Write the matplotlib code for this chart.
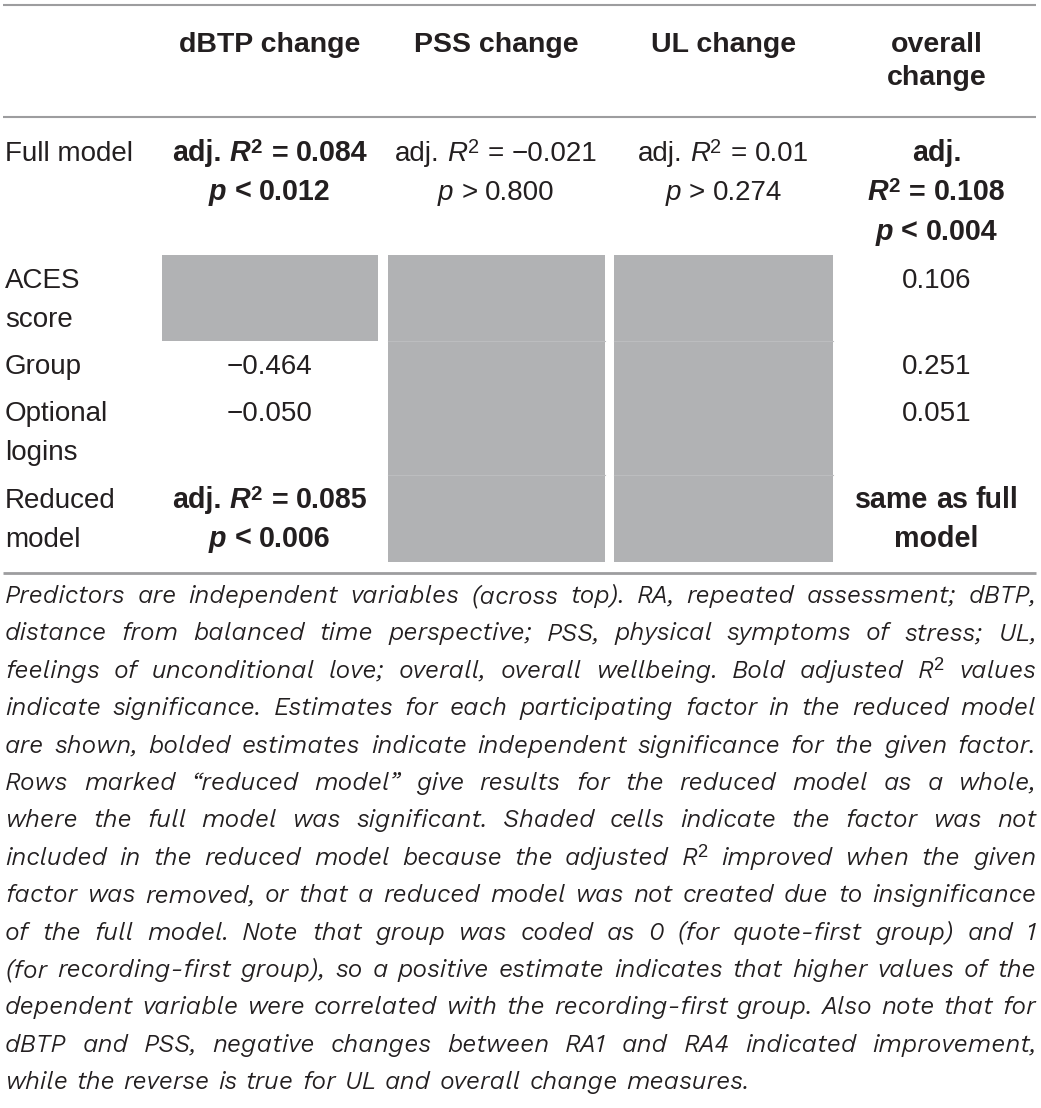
import matplotlib
matplotlib.use("Agg")
import matplotlib.pyplot as plt
from matplotlib import font_manager
from matplotlib.font_manager import FontProperties
from matplotlib.patches import Rectangle

W, H = 1041, 1108
FONT = "Liberation Sans"
TEXT = "#231f20"
SHADE = "#b1b2b4"
SEP = "#bcbdbf"
RULE = "#9d9d9f"

# ---- table content ----
headers = [["dBTP change"], ["PSS change"], ["UL change"], ["overall", "change"]]
row_labels = [["Full model"], ["ACES", "score"], ["Group"], ["Optional", "logins"], ["Reduced", "model"]]

full_r2 = ["0.084", "\u22120.021", "0.01", "0.108"]
full_p_sign = ["<", ">", ">", "<"]
full_p = ["0.012", "0.800", "0.274", "0.004"]
full_bold = [True, False, False, True]

aces_est = [None, None, None, "0.106"]
group_est = ["\u22120.464", None, None, "0.251"]
logins_est = ["\u22120.050", None, None, "0.051"]

reduced_r2 = ["0.085", None, None, None]
reduced_p = ["0.006", None, None, None]
reduced_note = ["same as full", "model"]

caption_lines = [
    "Predictors are independent variables (across top). RA, repeated assessment; dBTP,",
    "distance from balanced time perspective; PSS, physical symptoms of stress; UL,",
    "feelings of unconditional love; overall, overall wellbeing. Bold adjusted R^2 values",
    "indicate significance. Estimates for each participating factor in the reduced model",
    "are shown, bolded estimates indicate independent significance for the given factor.",
    "Rows marked \u201creduced model\u201d give results for the reduced model as a whole,",
    "where the full model was significant. Shaded cells indicate the factor was not",
    "included in the reduced model because the adjusted R^2 improved when the given",
    "factor was removed, or that a reduced model was not created due to insignificance",
    "of the full model. Note that group was coded as 0 (for quote-first group) and 1",
    "(for recording-first group), so a positive estimate indicates that higher values of the",
    "dependent variable were correlated with the recording-first group. Also note that for",
    "dBTP and PSS, negative changes between RA1 and RA4 indicated improvement,",
    "while the reverse is true for UL and overall change measures.",
]

# ---- layout (pixels, y downwards) ----
col_edges = [(162, 378), (388, 605), (614, 833), (843, 1030)]
row_tops = [128, 255, 341, 388, 475]
row_bottoms = [255, 341, 388, 475, 562]
sep_rows = [2, 4]
LINE_H = 39.3
FIRST_BASE = 33
TABLE_FS = 20
HEAD_FS = 20.5
CAP_X0, CAP_X1 = 5, 1036
CAP_BASE0, CAP_LINE_H = 603, 37.4
CAP_HEIGHT_PX = 16.6

fig = plt.figure(figsize=(W / 100, H / 100), dpi=100)
ax = fig.add_axes([0, 0, 1, 1])
ax.set_xlim(0, W)
ax.set_ylim(H, 0)
ax.axis("off")
renderer = fig.canvas.get_renderer()
width = CAP_X1 - CAP_X0


# the caption is a light condensed italic: pick the installed italic face that
# fits the caption lines at the reference cap height with the least stretching
def pick_caption_font():
    plain = [ln.replace("^2", "2") for ln in caption_lines]
    best_fit, best_over = None, None
    seen = set()
    for f in font_manager.fontManager.ttflist:
        if f.style not in ("italic", "oblique") or f.fname in seen:
            continue
        seen.add(f.fname)
        if any(bad in f.name for bad in ("Mono", "Serif", "CJK", "Math", "Symbol", "Emoji", "Display")):
            continue
        try:
            wt = int(f.weight)
        except (TypeError, ValueError):
            wt = font_manager.weight_dict.get(f.weight, 400)
        if wt > 450 or wt < 250:
            continue
        try:
            fp = FontProperties(fname=f.fname, size=20)
            _, h, d = renderer.get_text_width_height_descent("H", fp, ismath=False)
            size = 20 * CAP_HEIGHT_PX / (h - d)
            fp = FontProperties(fname=f.fname, size=size)
            widest = max(renderer.get_text_width_height_descent(ln, fp, ismath=False)[0]
                         for ln in plain)
        except Exception:
            continue
        if widest <= width:
            if best_fit is None or widest > best_fit[0]:
                best_fit = (widest, f.fname, size)
        else:
            if best_over is None or widest < best_over[0]:
                best_over = (widest, f.fname, size)
    if best_fit:
        return best_fit[1], best_fit[2]
    if best_over:
        return best_over[1], best_over[2] * width / best_over[0] * 0.995
    return None, 14.0


CAP_PATH, CAP_FS = pick_caption_font()

STY = {
    "r": dict(weight="normal", style="normal", scale=1.0, rise=0.0),
    "b": dict(weight="bold", style="normal", scale=1.03, rise=0.0),
    "i": dict(weight="normal", style="italic", scale=1.0, rise=0.0),
    "bi": dict(weight="bold", style="italic", scale=1.03, rise=0.0),
    "sup": dict(weight="normal", style="normal", scale=0.72, rise=0.29),
    "bsup": dict(weight="bold", style="normal", scale=0.74, rise=0.29),
    "ci": dict(weight="normal", style="italic", scale=1.0, rise=0.0),
}


def font_kw(st, size):
    p = STY[st]
    if st == "ci" and CAP_PATH:
        return dict(fontproperties=FontProperties(fname=CAP_PATH, size=size))
    return dict(fontsize=size * p["scale"], fontweight=p["weight"],
                fontstyle=p["style"], family=FONT)


def measure(s, st, size):
    t = ax.text(0, 0, s, **font_kw(st, size))
    w = t.get_window_extent(renderer).width
    t.remove()
    return w


def space_w(st, size):
    return measure("H H", st, size) - measure("HH", st, size)


def token_w(tok, size):
    text, st = tok
    if text == " ":
        return space_w(st, size)
    return measure(text, st, size) + (1.5 if st.endswith("sup") else 0)


def draw_tokens(tokens, x, y, size):
    for text, st in tokens:
        w = token_w((text, st), size)
        if text != " ":
            ax.text(x, y - STY[st]["rise"] * size * 100 / 72, text, ha="left",
                    va="baseline", color=TEXT, **font_kw(st, size))
        x += w


def draw_centered(lines, cx, y0, size, lh):
    for k, tokens in enumerate(lines):
        total = sum(token_w(t, size) for t in tokens)
        draw_tokens(tokens, cx - total / 2, y0 + k * lh, size)


def r2_tokens(val, bold):
    b = "b" if bold else "r"
    return [("adj.", b), (" ", b), ("R", "bi" if bold else "i"),
            ("2", "bsup" if bold else "sup"), (" ", b), ("=", b), (" ", b), (val, b)]


def p_tokens(sign, val, bold):
    b = "b" if bold else "r"
    return [("p", "bi" if bold else "i"), (" ", b), (sign, b), (" ", b), (val, b)]


# ---- build cells ----
cells = [[None] * 4 for _ in range(5)]
for j in range(4):
    r2 = r2_tokens(full_r2[j], full_bold[j])
    pl = p_tokens(full_p_sign[j], full_p[j], full_bold[j])
    if j == 3:
        cells[0][j] = [r2[:1], r2[2:], pl]
    else:
        cells[0][j] = [r2, pl]
for i, est in ((1, aces_est), (2, group_est), (3, logins_est)):
    for j in range(4):
        if est[j] is not None:
            cells[i][j] = [[(est[j], "r")]]
for j in range(4):
    if reduced_r2[j] is not None:
        cells[4][j] = [r2_tokens(reduced_r2[j], True), p_tokens("<", reduced_p[j], True)]
note = []
for part in reduced_note:
    toks = []
    for k, wd in enumerate(part.split(" ")):
        if k:
            toks.append((" ", "b"))
        toks.append((wd, "b"))
    note.append(toks)
cells[4][3] = note

# ---- rules ----
for y, lw in ((5, 1.5), (116.5, 1.5), (573, 2.0)):
    ax.plot([3, 1036], [y, y], color=RULE, lw=lw, solid_capstyle="butt")

# ---- shading ----
for i in range(1, 5):
    for j in range(4):
        if cells[i][j] is None:
            x0, x1 = col_edges[j]
            ax.add_patch(Rectangle((x0, row_tops[i]), x1 - x0, row_bottoms[i] - row_tops[i],
                                   facecolor=SHADE, edgecolor="none"))
            if i in sep_rows and cells[i - 1][j] is None:
                ax.plot([x0, x1], [row_tops[i], row_tops[i]], color=SEP, lw=0.8)

# ---- header ----
for j, hl in enumerate(headers):
    cx = sum(col_edges[j]) / 2
    draw_centered([[(h, "b")] for h in hl], cx, 51.7, HEAD_FS / STY["b"]["scale"], 33.3)

# ---- body ----
for i in range(5):
    y0 = row_tops[i] + FIRST_BASE
    for k, lab in enumerate(row_labels[i]):
        draw_tokens([(lab, "r")], 5, y0 + k * LINE_H, TABLE_FS)
    for j in range(4):
        if cells[i][j] is not None:
            draw_centered(cells[i][j], sum(col_edges[j]) / 2, y0, TABLE_FS, LINE_H)


# ---- caption (justified italic) ----
def word_tokens(word):
    if "^2" in word:
        a, b = word.split("^2")
        toks = [(a, "ci"), ("2", "sup")]
        if b:
            toks.append((b, "ci"))
        return toks
    return [(word, "ci")]


for n, line in enumerate(caption_lines):
    words = [word_tokens(w) for w in line.split(" ")]
    ws = [sum(token_w(t, CAP_FS) for t in w) for w in words]
    if n < len(caption_lines) - 1:
        gap = (width - sum(ws)) / (len(words) - 1)
    else:
        gap = space_w("ci", CAP_FS)
    x = CAP_X0
    y = CAP_BASE0 + n * CAP_LINE_H
    for toks, w in zip(words, ws):
        draw_tokens(toks, x, y, CAP_FS)
        x += w + gap

fig.savefig("out.png", dpi=100)
